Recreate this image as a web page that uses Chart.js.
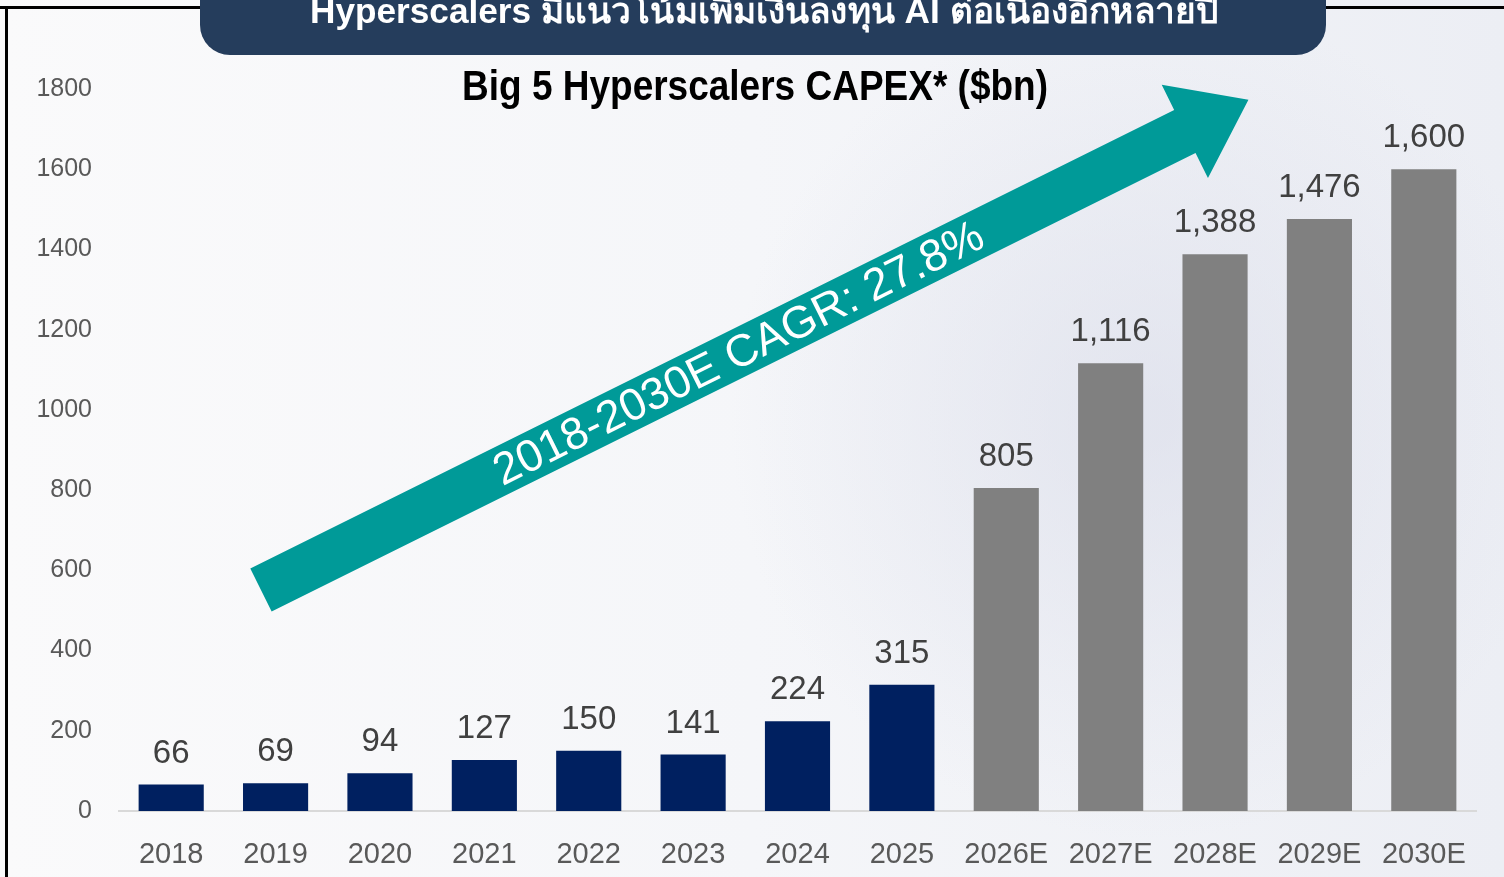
<!DOCTYPE html>
<html>
<head>
<meta charset="utf-8">
<script src="https://cdn.jsdelivr.net/npm/chart.js@4.4.1/dist/chart.umd.min.js"></script>
<style>
  html, body { margin: 0; padding: 0; background: #f7f7f9; }
  #wrap { width: 1504px; height: 877px; }
</style>
</head>
<body>
<div id="wrap"><canvas id="grafico" width="1504" height="877"></canvas></div>
<script>
const anios = ['2018', '2019', '2020', '2021', '2022', '2023', '2024', '2025', '2026E', '2027E', '2028E', '2029E', '2030E'];
const capex = [66, 69, 94, 127, 150, 141, 224, 315, 805, 1116, 1388, 1476, 1600];
const etiquetas = ['66', '69', '94', '127', '150', '141', '224', '315', '805', '1,116', '1,388', '1,476', '1,600'];
const esEstimado = [false, false, false, false, false, false, false, false, true, true, true, true, true];
const ticksY = [0, 200, 400, 600, 800, 1000, 1200, 1400, 1600, 1800];

const titulo = 'Big 5 Hyperscalers CAPEX* ($bn)';
const banner = 'Hyperscalers มีแนวโน้มเพิ่มเงินลงทุน AI ต่อเนื่องอีกหลายปี';
const textoFlecha = '2018-2030E CAGR: 27.8%';

// flecha: cola y punta en unidades de los ejes (indice de categoria, valor)
const flechaCola = [0.86, 551];
const flechaPunta = [10.32, 1773];

const AZUL = '#002060';
const GRIS = '#808080';
const FUENTE = '"Liberation Sans", Arial, sans-serif';

// texto estirado/comprimido a un ancho dado
function textoAjustado(ctx, txt, cx, cy, ancho) {
    const w = ctx.measureText(txt).width;
    ctx.save();
    ctx.translate(cx, cy);
    ctx.scale(ancho / w, 1);
    ctx.fillText(txt, 0, 0);
    ctx.restore();
}

const fondo = {
    id: 'fondo',
    beforeDraw(chart) {
        const ctx = chart.ctx;
        ctx.save();
        const g = ctx.createLinearGradient(0, 0, 1504, 0);
        g.addColorStop(0, '#fafafb');
        g.addColorStop(0.5, '#f5f6f9');
        g.addColorStop(1, '#eceef4');
        ctx.fillStyle = g;
        ctx.fillRect(0, 0, chart.width, chart.height);
        const r = ctx.createRadialGradient(1150, 420, 20, 1150, 420, 420);
        r.addColorStop(0, 'rgba(215,218,232,0.55)');
        r.addColorStop(1, 'rgba(215,218,232,0)');
        ctx.fillStyle = r;
        ctx.fillRect(0, 0, chart.width, chart.height);

        // marco negro
        ctx.fillStyle = '#000';
        ctx.fillRect(0, 6, chart.width, 3);
        ctx.fillRect(5, 6, 3, chart.height);

        // banner superior
        ctx.fillStyle = '#253d5c';
        ctx.beginPath();
        ctx.roundRect(200, -40, 1126, 95, 30);
        ctx.fill();
        ctx.fillStyle = '#ffffff';
        ctx.font = 'bold 35px ' + FUENTE;
        ctx.textAlign = 'center';
        ctx.textBaseline = 'alphabetic';
        textoAjustado(ctx, banner, 764, 23, 908);

        // titulo
        ctx.fillStyle = '#000000';
        ctx.font = 'bold 43px ' + FUENTE;
        ctx.textBaseline = 'middle';
        textoAjustado(ctx, titulo, 755, 88, 586);
        ctx.restore();
    },
    beforeDatasetsDraw(chart) {
        const ctx = chart.ctx;
        const x = chart.scales.x, y = chart.scales.y;
        const x0 = x.getPixelForValue(flechaCola[0]), y0 = y.getPixelForValue(flechaCola[1]);
        const x1 = x.getPixelForValue(flechaPunta[0]), y1 = y.getPixelForValue(flechaPunta[1]);
        const L = Math.hypot(x1 - x0, y1 - y0);
        const ang = Math.atan2(y1 - y0, x1 - x0);
        const hw = 24, hh = 52, hl = 71;
        ctx.save();
        ctx.translate(x0, y0);
        ctx.rotate(ang);
        ctx.fillStyle = '#009a98';
        ctx.beginPath();
        ctx.moveTo(0, -hw);
        ctx.lineTo(L - hl, -hw);
        ctx.lineTo(L - hl, -hh);
        ctx.lineTo(L, 0);
        ctx.lineTo(L - hl, hh);
        ctx.lineTo(L - hl, hw);
        ctx.lineTo(0, hw);
        ctx.closePath();
        ctx.fill();
        ctx.fillStyle = '#ffffff';
        ctx.font = '45px ' + FUENTE;
        ctx.textAlign = 'center';
        ctx.textBaseline = 'middle';
        textoAjustado(ctx, textoFlecha, 533, 2, 541);
        ctx.restore();
    },
    afterDatasetsDraw(chart) {
        const ctx = chart.ctx;
        const meta = chart.getDatasetMeta(0);
        ctx.save();
        ctx.fillStyle = '#404040';
        ctx.font = '33px ' + FUENTE;
        ctx.textAlign = 'center';
        ctx.textBaseline = 'middle';
        meta.data.forEach((bar, i) => {
            ctx.fillText(etiquetas[i], bar.x, bar.y - 31);
        });
        ctx.restore();
    }
};

const ctx = document.getElementById('grafico').getContext('2d');
new Chart(ctx, {
    type: 'bar',
    data: {
        labels: anios,
        datasets: [{
            label: 'CAPEX',
            data: capex,
            backgroundColor: esEstimado.map(e => e ? GRIS : AZUL),
            borderWidth: 0,
            barPercentage: 0.78,
            categoryPercentage: 0.8
        }]
    },
    options: {
        responsive: false,
        animation: false,
        layout: { padding: { top: 89, right: 28, left: 0, bottom: 0 } },
        plugins: {
            legend: { display: false },
            tooltip: { enabled: false }
        },
        scales: {
            x: {
                grid: { display: false },
                border: { display: true, color: '#d9d9d9', width: 2 },
                ticks: { color: '#595959', font: { family: FUENTE, size: 29 }, padding: 19, maxRotation: 0, autoSkip: false },
                afterFit(scale) { scale.height = 66; }
            },
            y: {
                min: 0,
                max: 1800,
                afterBuildTicks(scale) { scale.ticks = ticksY.map(v => ({ value: v })); },
                grid: { display: false, drawTicks: false },
                border: { display: false },
                ticks: {
                    color: '#595959',
                    font: { family: FUENTE, size: 25 },
                    padding: 27,
                    callback: v => String(v)
                },
                afterFit(scale) { scale.width = 119; }
            }
        }
    },
    plugins: [fondo]
});
</script>
</body>
</html>
